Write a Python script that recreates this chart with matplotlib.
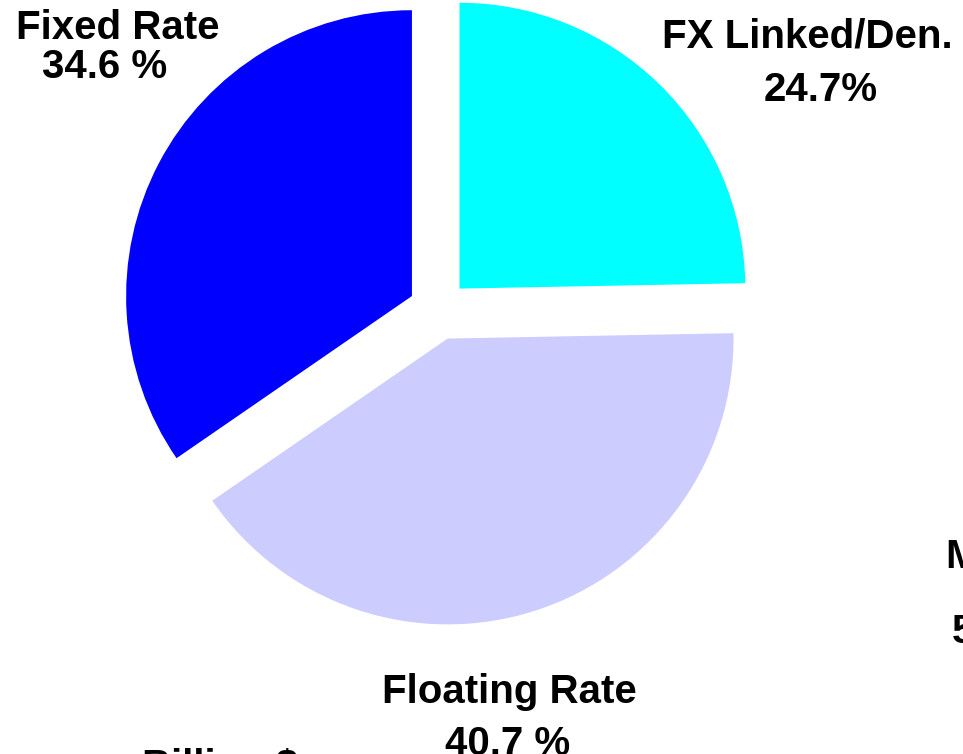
import matplotlib.pyplot as plt

# Data
labels = ['FX Linked/Den.', 'Floating Rate', 'Fixed Rate']
shares = [24.7, 40.7, 34.6]
colors = ['#00FFFF', '#CCCCFF', '#0000FF']

plt.rcParams['font.family'] = ['Liberation Sans', 'DejaVu Sans']

W, H = 963, 754
fig = plt.figure(figsize=(W / 100, H / 100), dpi=100)
ax = fig.add_axes([0, 0, 1, 1])

ax.pie(shares, colors=colors, startangle=90, counterclock=False,
       explode=[0.106] * 3, radius=1.01, wedgeprops={'linewidth': 0})

# pie centre at pixel (438.5, 310), radius ~285 px
r = 283.0
cx, cy = 438.5, 310.0
ax.set_aspect('auto')
ax.set_xlim(-cx / r, (W - cx) / r)
ax.set_ylim(-(H - cy) / r, cy / r)
ax.axis('off')


def label(s, x, y, size=29, ha='center'):
    fig.text(x / W, 1 - y / H, s, ha=ha, va='baseline', fontsize=size,
             fontweight='bold', color='black')


# Labels
label('Fixed Rate', 118, 39)
label('34.6 %', 105, 78)
label('FX Linked/Den.', 807, 47)
label('24.7%', 821, 101)
label('Floating Rate', 509, 703)
label('40.7 %', 508, 755)
label('M', 945, 568, ha='left')
label('5', 952, 643, ha='left')
label('Billion $', 142, 778, ha='left')

fig.savefig('out.png', dpi=100)
